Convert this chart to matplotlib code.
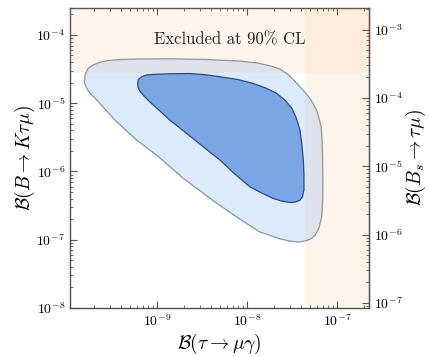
import matplotlib
matplotlib.use("Agg")
import matplotlib.pyplot as plt
import numpy as np

# ---- data ----
# outer allowed region boundary
outer_x = [1.56e-10, 1.585e-10, 1.71e-10, 1.94e-10, 2.27e-10, 2.76e-10, 3.88e-10,
           5.94e-10, 1.39e-9, 3.24e-9, 8.36e-9, 1.32e-8, 1.80e-8, 2.33e-8,
           2.93e-8, 3.56e-8, 4.30e-8, 4.89e-8, 5.41e-8, 6.00e-8, 6.31e-8,
           6.64e-8, 6.76e-8, 6.90e-8, 6.98e-8, 6.94e-8, 6.76e-8, 6.31e-8,
           5.70e-8, 5.14e-8, 4.53e-8, 3.98e-8, 3.56e-8, 2.86e-8, 2.33e-8,
           1.39e-8, 8.36e-9, 4.60e-9, 1.95e-9, 9.93e-10, 5.94e-10, 3.41e-10,
           2.51e-10, 2.05e-10, 1.80e-10, 1.63e-10]
outer_y = [2.06e-5, 2.58e-5, 3.21e-5, 3.62e-5, 3.94e-5, 4.19e-5, 4.36e-5,
           4.44e-5, 4.47e-5, 4.39e-5, 4.14e-5, 3.87e-5, 3.53e-5, 3.16e-5,
           2.58e-5, 1.97e-5, 1.50e-5, 1.23e-5, 1.00e-5, 7.66e-6, 6.05e-6,
           4.61e-6, 3.65e-6, 2.05e-6, 6.73e-7, 3.79e-7, 2.16e-7, 1.48e-7,
           1.16e-7, 1.03e-7, 9.67e-8, 9.35e-8, 9.29e-8, 9.67e-8, 1.03e-7,
           1.30e-7, 2.00e-7, 3.43e-7, 7.98e-7, 1.73e-6, 2.88e-6, 5.65e-6,
           8.85e-6, 1.19e-5, 1.39e-5, 1.72e-5]
# inner allowed region boundary
inner_x = [6.10e-10, 6.22e-10, 6.76e-10, 7.55e-10, 9.03e-10, 1.39e-9, 2.33e-9,
           3.41e-9, 5.01e-9, 7.94e-9, 1.17e-8, 1.63e-8, 2.14e-8, 2.64e-8,
           3.14e-8, 3.50e-8, 3.88e-8, 4.08e-8, 4.23e-8, 4.30e-8, 4.30e-8,
           4.14e-8, 3.88e-8, 3.41e-8, 3.01e-8, 2.45e-8, 1.96e-8, 1.47e-8,
           1.08e-8, 7.36e-9, 5.01e-9, 3.27e-9, 2.05e-9, 1.39e-9, 1.08e-9,
           8.36e-10, 7.18e-10, 6.47e-10, 6.15e-10]
inner_y = [1.95e-5, 2.22e-5, 2.44e-5, 2.58e-5, 2.64e-5, 2.70e-5, 2.72e-5,
           2.62e-5, 2.44e-5, 2.22e-5, 1.95e-5, 1.66e-5, 1.39e-5, 1.11e-5,
           8.47e-6, 6.25e-6, 4.04e-6, 2.43e-6, 1.47e-6, 8.83e-7, 5.32e-7,
           4.27e-7, 3.79e-7, 3.55e-7, 3.51e-7, 3.67e-7, 4.02e-7, 4.81e-7,
           5.94e-7, 9.12e-7, 1.47e-6, 2.30e-6, 3.77e-6, 5.65e-6, 7.66e-6,
           1.04e-5, 1.27e-5, 1.50e-5, 1.72e-5]
# experimental upper limits (90% CL)
limit_tau_mugamma = 4.4e-8
limit_B_Ktaumu = 2.8e-5
# ratio B(Bs->tau mu) / B(B->K tau mu) used for the right axis
bs_ratio = 8.4

xlim = (1.08e-10, 2.27e-7)
ylim = (1.0e-8, 2.48e-4)

# ---- style ----
plt.rcParams['font.family'] = ['cmr10', 'DejaVu Serif']
plt.rcParams['mathtext.fontset'] = 'cm'
plt.rcParams['axes.unicode_minus'] = False
plt.rcParams['axes.formatter.use_mathtext'] = True

edge = '#505050'
fig = plt.figure(figsize=(4.30, 3.56), dpi=100)
ax = fig.add_axes([70/430, 48/356, 299/430, 300/356])
ax.set_xscale('log')
ax.set_yscale('log')

ax.fill(outer_x, outer_y, facecolor='#dcebfc', edgecolor='#8a96a3', lw=0.9,
        joinstyle='round', zorder=2)
ax.fill(inner_x, inner_y, facecolor='#7aa6e6', edgecolor='#2c4a80', lw=0.9,
        joinstyle='round', zorder=3)

band = '#ff7f0e'
ax.axhspan(limit_B_Ktaumu, ylim[1] * 10, color=band, alpha=0.07, lw=0, zorder=4)
ax.axvspan(limit_tau_mugamma, xlim[1] * 10, color=band, alpha=0.07, lw=0, zorder=4)
ax.set_xlim(*xlim)
ax.set_ylim(*ylim)

ax.text(0.535, 0.893, 'Excluded at 90% CL', transform=ax.transAxes, ha='center',
        va='center', fontsize=12, color='#222222', zorder=5)

ax.set_xlabel(r'$\mathcal{B}(\tau\to\mu\gamma)$', fontsize=14, labelpad=2)
ax.set_ylabel(r'$\mathcal{B}(B\to K\tau\mu)$', fontsize=14, labelpad=-0.5)

ax.tick_params(which='both', direction='in', top=True, right=False,
               color=edge, labelsize=10)
ax.tick_params(which='major', length=5)
ax.tick_params(which='minor', length=2.5)
for s in ax.spines.values():
    s.set_color(edge)
    s.set_linewidth(1.0)

sec = ax.secondary_yaxis('right', functions=(lambda y: y * bs_ratio,
                                              lambda y: y / bs_ratio))
sec.tick_params(which='both', direction='in', color=edge, labelsize=10)
sec.tick_params(which='major', length=5)
sec.tick_params(which='minor', length=2.5)
sec.spines['right'].set_color(edge)
sec.set_ylabel(r'$\mathcal{B}(B_s\to\tau\mu)$', fontsize=14, labelpad=1)

fig.savefig('out.png', dpi=100)
